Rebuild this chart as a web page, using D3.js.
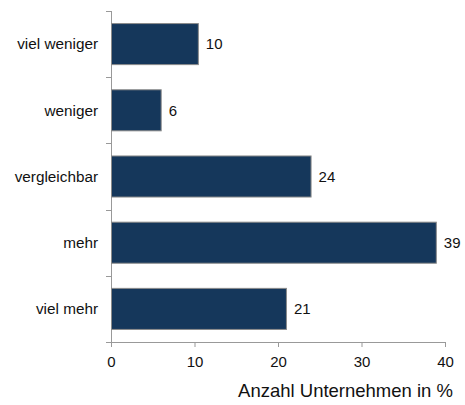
<!DOCTYPE html>
<html><head><meta charset="utf-8">
<script src="https://cdn.jsdelivr.net/npm/d3@7"></script>
<style>body{margin:0;background:#fff}svg{display:block}text{font-family:"Liberation Sans",Arial,sans-serif;fill:#111}</style>
</head><body><svg id="c" width="465" height="405"></svg>
<script>
const categories = ["viel weniger","weniger","vergleichbar","mehr","viel mehr"];
const values = [10.4,5.95,23.9,38.9,20.95];
const xTicks = [0,10,20,30,40];
const xTitle = "Anzahl Unternehmen in %";

const svg = d3.select("#c");
const x = d3.scaleLinear().domain([0,40]).range([111,445]);
const y = d3.scaleBand().domain(categories).range([11,342]).paddingInner(0.38).paddingOuter(0.19);
const yb = d3.scaleBand().domain(categories).range([11,342]);
const axisCol = "#999";

svg.append("line").attr("x1",111.5).attr("x2",111.5).attr("y1",11).attr("y2",342).attr("stroke",axisCol);
const bounds = categories.map(c=>yb(c)).concat([342]);
svg.selectAll("line.yt").data(bounds).enter().append("line")
  .attr("x1",106).attr("x2",111).attr("y1",d=>Math.round(d)+0.5).attr("y2",d=>Math.round(d)+0.5).attr("stroke",axisCol);
svg.selectAll("text.yl").data(categories).enter().append("text")
  .attr("x",98).attr("y",d=>yb(d)+yb.bandwidth()/2).attr("dy","0.35em").attr("text-anchor","end")
  .attr("font-size",15.3).text(d=>d);

const xa = svg.append("g").attr("transform","translate(0,342)")
  .call(d3.axisBottom(x).tickValues(xTicks).tickSize(5).tickPadding(9).tickSizeOuter(0));
xa.select(".domain").attr("stroke",axisCol).attr("d","M106,0.5H445");
xa.selectAll(".tick line").attr("stroke",axisCol);
xa.selectAll(".tick text").attr("font-size",15).attr("font-family","Liberation Sans, Arial, sans-serif").attr("fill","#111");

svg.selectAll("rect.bar").data(values).enter().append("rect")
  .attr("x",x(0)+0.5).attr("y",(d,i)=>y(categories[i]))
  .attr("width",d=>x(d)-x(0)).attr("height",y.bandwidth())
  .attr("fill","#15375b").attr("stroke","#8a8a8a").attr("stroke-width",1);
svg.selectAll("text.vl").data(values).enter().append("text")
  .attr("x",d=>x(d)+8).attr("y",(d,i)=>y(categories[i])+y.bandwidth()/2).attr("dy","0.35em")
  .attr("font-size",15).text(d=>Math.round(d));

svg.append("text").attr("x",453).attr("y",397).attr("text-anchor","end").attr("font-size",18.5).text(xTitle);
</script></body></html>
